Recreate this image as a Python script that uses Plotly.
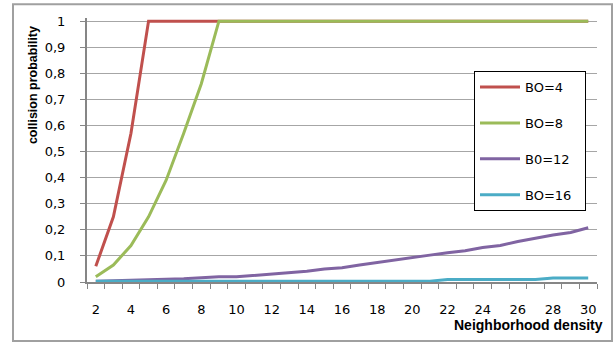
import plotly.graph_objects as go

density = list(range(2, 31))
bo4 = [0.06, 0.25, 0.57] + [1.0] * 26
bo8 = [0.02, 0.065, 0.14, 0.25, 0.39, 0.57, 0.76] + [1.0] * 22
bo12 = [0.003, 0.005, 0.006, 0.007, 0.009, 0.012, 0.016, 0.02, 0.02, 0.025,
        0.032, 0.036, 0.041, 0.05, 0.055, 0.065, 0.075, 0.085, 0.094, 0.103,
        0.112, 0.12, 0.132, 0.14, 0.155, 0.168, 0.18, 0.19, 0.208]
bo16 = [0.003] * 20 + [0.01] * 6 + [0.015] * 3

series = [("BO=4", bo4, "#C0504D"), ("BO=8", bo8, "#9BBB59"),
          ("B0=12", bo12, "#8064A2"), ("BO=16", bo16, "#4BACC6")]

ytickvals = [i / 10 for i in range(11)]
yticktext = ["0"] + [f"0,{i}" for i in range(1, 10)] + ["1"]
xtickvals = list(range(2, 31, 2))

fig = go.Figure()
for i, (name, vals, col) in enumerate(series):
    fig.add_trace(go.Scatter(x=density, y=vals, name=name + "\u00a0\u00a0", mode="lines",
                             line=dict(color=col, width=3), legendgroup=f"g{i}"))

W, H = 616, 343
L, R, T, B = 87, 597, 21, 282
ymax = 1.012
plot_h = (B - T) * ymax
top = B - plot_h

fig.update_layout(
    width=W, height=H,
    margin=dict(l=L, r=W - R, t=top, b=H - B, pad=0, autoexpand=False),
    paper_bgcolor="white", plot_bgcolor="white",
    font=dict(family="DejaVu Sans", size=13, color="#000000"),
    showlegend=True,
    legend=dict(x=(474 - L) / (R - L), y=(B - 71) / plot_h, xanchor="left", yanchor="top",
                bordercolor="#000000", borderwidth=1, bgcolor="white",
                itemwidth=40,
                font=dict(family="DejaVu Sans", size=13), tracegroupgap=16),
)
fig.update_xaxes(
    range=[1.5, 30.5], tickvals=xtickvals, ticktext=[str(v) for v in xtickvals],
    ticks="", showgrid=False, showline=True, linecolor="#868686", linewidth=2,
    ticklabelstandoff=14,
    minor=dict(ticks="outside", tick0=1.5, dtick=1, ticklen=5, tickcolor="#868686",
               tickwidth=1, showgrid=False),
    zeroline=False,
)
fig.update_yaxes(
    range=[0, ymax], tickvals=ytickvals, ticktext=yticktext,
    ticks="outside", ticklen=5, tickcolor="#868686", tickwidth=1,
    showgrid=True, gridcolor="#A6A6A6", gridwidth=1,
    showline=True, linecolor="#868686", linewidth=2, zeroline=False,
    ticklabelstandoff=12,
)

pw = R - L
fig.add_shape(type="rect", xref="paper", yref="paper",
              x0=(13 - L) / pw, x1=(612 - L) / pw,
              y0=(B - 341) / plot_h, y1=(B - 4) / plot_h,
              line=dict(color="#A0A0A0", width=2), layer="above")

fig.add_annotation(text="<b>collision probability</b>", xref="paper", yref="paper",
                   x=(33 - L) / pw, y=(B - 85) / plot_h, textangle=-90, showarrow=False,
                   font=dict(family="Liberation Sans", size=12.5, color="#000000"),
                   xanchor="center", yanchor="middle")
fig.add_annotation(text="<b>Neighborhood density</b>", xref="paper", yref="paper",
                   x=(605 - L) / pw, y=(B - 325) / plot_h, showarrow=False,
                   font=dict(family="Liberation Sans", size=14, color="#000000"),
                   xanchor="right", yanchor="middle")

fig.write_html("out.html", config={"displayModeBar": False},
               post_script="document.body.style.margin='0';document.body.style.overflow='hidden';")
